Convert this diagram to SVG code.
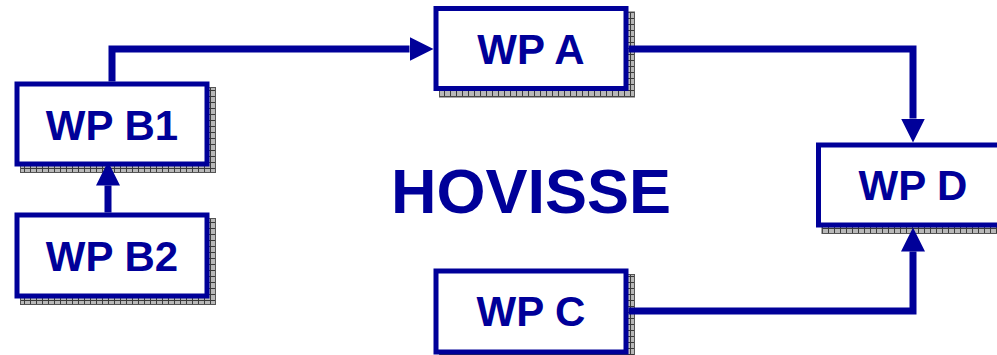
<svg xmlns="http://www.w3.org/2000/svg" width="997" height="355" viewBox="0 0 997 355">
  <style>
    .box { fill: #ffffff; stroke: #000099; stroke-width: 5; }
    .shadow { fill: url(#hatch); stroke: #555555; stroke-width: 1; }
    .label { font-family: "Liberation Sans", Arial, sans-serif; font-weight: bold; font-size: 42px; fill: #000099; text-anchor: middle; }
    .title { font-family: "Liberation Sans", Arial, sans-serif; font-weight: bold; font-size: 63px; fill: #000099; text-anchor: middle; }
    .conn { fill: none; stroke: #000099; stroke-width: 7; stroke-linejoin: miter; stroke-linecap: butt; marker-end: url(#arrow); }
  </style>
  <defs>
    <pattern id="hatch" patternUnits="userSpaceOnUse" width="6" height="6">
      <rect width="6" height="6" fill="#b8b8b8"/>
      <path d="M0 0.5 H6 M0.5 0 V6" stroke="#3a3a3a" stroke-width="1"/>
    </pattern>
    <marker id="arrow" markerUnits="userSpaceOnUse" viewBox="0 -12 24 24" markerWidth="24" markerHeight="24" refX="0" refY="0" orient="auto">
      <path d="M0 -12 L24 0 L0 12 Z" fill="#000099"/>
    </marker>
  </defs>

  <g id="wp-b1">
    <rect class="shadow" x="20.5" y="87.5" width="195" height="85"/>
    <rect class="box" x="17" y="84" width="190" height="80"/>
    <text class="label" x="112" y="140">WP B1</text>
  </g>
  <g id="wp-b2">
    <rect class="shadow" x="20.5" y="218.5" width="195" height="86"/>
    <rect class="box" x="17" y="215" width="190" height="81"/>
    <text class="label" x="112" y="271">WP B2</text>
  </g>
  <g id="wp-a">
    <rect class="shadow" x="439.5" y="12" width="195" height="85"/>
    <rect class="box" x="436" y="8.5" width="190" height="80"/>
    <text class="label" x="531" y="64">WP A</text>
  </g>
  <g id="wp-c">
    <rect class="shadow" x="439.5" y="274.5" width="195" height="86"/>
    <rect class="box" x="436" y="271" width="190" height="81"/>
    <text class="label" x="531" y="326">WP C</text>
  </g>
  <g id="wp-d">
    <rect class="shadow" x="822" y="148.5" width="195" height="85"/>
    <rect class="box" x="818.5" y="145" width="190" height="80"/>
    <text class="label" x="913" y="200">WP D</text>
  </g>

  <text id="title" class="title" x="531" y="213">HOVISSE</text>

  <g id="connectors">
    <path class="conn" d="M112 81.5 V49 H409.5"/>
    <path class="conn" d="M628.5 49 H913 V118.5"/>
    <path class="conn" d="M628.5 311 H913 V251.5"/>
    <path class="conn" d="M108 212.5 V185.5"/>
  </g>
</svg>
